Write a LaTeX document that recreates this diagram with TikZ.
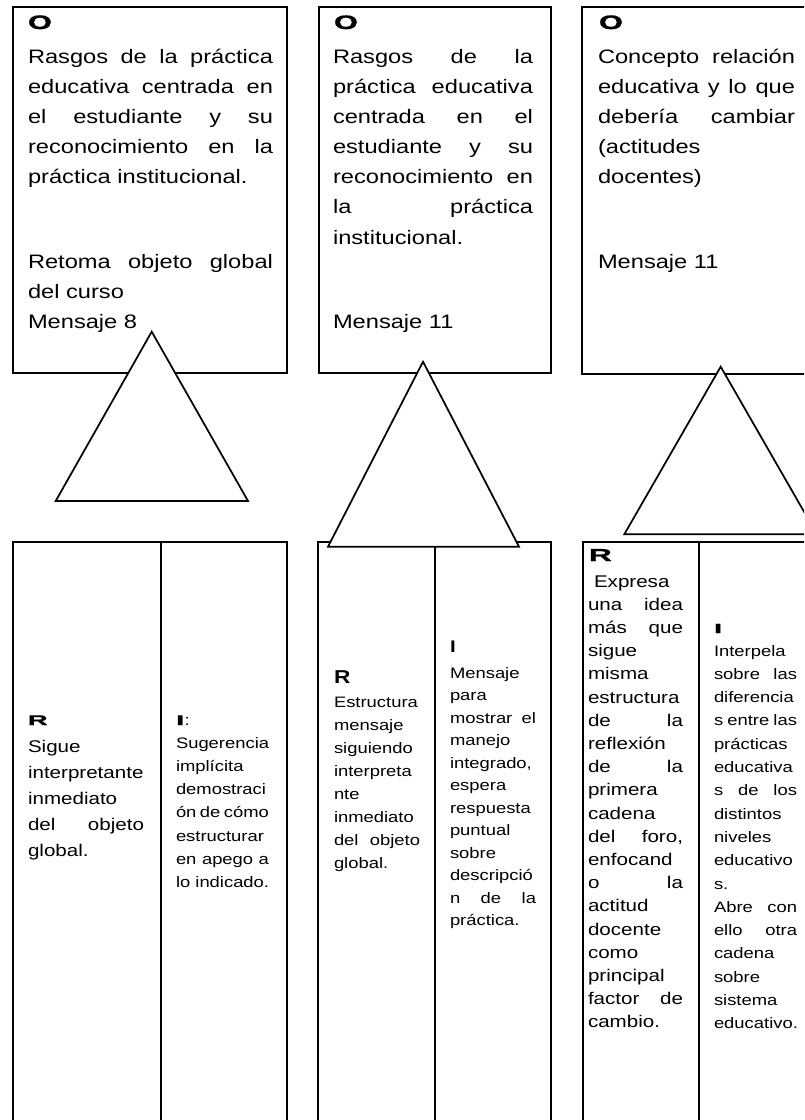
\documentclass[tikz,border=0pt]{standalone}
\usepackage{fontspec}
\usepackage{graphicx}
\setmainfont{Liberation Sans}[FakeStretch=1.215]
\newfontfamily\heavyfont{Liberation Sans}[FakeStretch=1.215, BoldFeatures={FakeBold=1.2}]

% one drawing unit = one pixel of the layout grid
\newlength\pxu \setlength\pxu{0.75pt}
% a justified line of given width (in grid units)
\newcommand\J[2]{\makebox[#1\pxu][s]{#2}}
\newcommand\ftop{\fontsize{14.6pt}{17pt}\selectfont}
\newcommand\fsml{\fontsize{11.36pt}{13pt}\selectfont}
\newcommand\fmid{\fontsize{12.7pt}{15pt}\selectfont}
% heavy, widened heading letter
\newcommand\wideB[3]{{\heavyfont\fontsize{#1}{#1}\selectfont\bfseries\scalebox{#2}[1]{#3}}}
% plain bold heading letter
\newcommand\plainB[2]{{\fontsize{#1}{#1}\selectfont\bfseries #2}}
% a column of lines set one per baseline
\newcommand\txtcol[6]{%
  \foreach \ltxt [count=\k from 0] in {#6}
    \node[txtline, font=#5] (#1-\k) at (#2, {#3+\k*#4}) {\ltxt};%
}

\begin{document}
\begin{tikzpicture}[x=0.75pt, y=-0.75pt,
  frame/.style={draw=black, line width=1.5pt},
  tri/.style={draw=black, fill=white, line width=1.3pt, line join=miter},
  txtline/.style={anchor=base west, inner sep=0pt, outer sep=0pt, text=black},
  head/.style={anchor=base west, inner sep=0pt, outer sep=0pt, text=black}]

\useasboundingbox (0,0) rectangle (804,1120);
\clip (0,0) rectangle (804,1120);
\fill[white] (0,0) rectangle (804,1120);

% upper boxes (O)
\draw[frame] (12.7,7.3) rectangle (287,373);
\draw[frame] (319,7.3) rectangle (551,373);
\draw[frame] (582,7.3) rectangle (816,374);

% lower boxes (R | I)
\draw[frame] (12.7,541.7) rectangle (287,1135);
\draw[frame] (161,541.7) -- (161,1135);
\draw[frame] (318,541.7) rectangle (551,1135);
\draw[frame] (435,541.7) -- (435,1135);
\draw[frame] (583,542.3) rectangle (816,1135);
\draw[frame] (699,542.3) -- (699,1135);

% headings
\node[head] (o1) at (28,29)  {\wideB{14.6pt}{1.3}{O}};
\node[head] (o2) at (334,29) {\wideB{14.6pt}{1.3}{O}};
\node[head] (o3) at (599,29) {\wideB{14.6pt}{1.3}{O}};
\node[head] (r1) at (28,725)  {\wideB{10.5pt}{1.6}{R}};
\node[head] (i1) at (176,725) {\wideB{10.5pt}{1.8}{I}{\fsml:}};
\node[head] (r2) at (334,683) {\plainB{14pt}{R}};
\node[head] (i2) at (450,652) {\plainB{12.6pt}{I}};
\node[head] (r3) at (589,561) {\wideB{13pt}{1.5}{R}};
\node[head] (i3) at (714,633) {\wideB{10pt}{1.8}{I}};

% upper texts
\txtcol{ta}{28}{64}{30}{\ftop}{\J{245}{Rasgos de la práctica}, \J{245}{educativa centrada en}, \J{245}{el estudiante y su}, \J{245}{reconocimiento en la}, práctica institucional.}
\txtcol{tam}{28}{268}{30}{\ftop}{\J{245}{Retoma objeto global}, del curso, Mensaje 8}

\txtcol{tb}{333}{64}{30}{\ftop}{\J{200}{Rasgos de la}, \J{200}{práctica educativa}, \J{200}{centrada en el}, \J{200}{estudiante y su}, \J{200}{reconocimiento en}, \J{200}{la práctica}, institucional.}
\txtcol{tbm}{333}{328}{30}{\ftop}{Mensaje 11}

\txtcol{tc}{598}{64}{30}{\ftop}{\J{197}{Concepto relación}, \J{197}{educativa y lo que}, \J{197}{debería cambiar}, {(actitudes}, docentes)}
\txtcol{tcm}{598}{268}{30}{\ftop}{Mensaje 11}

% lower texts
\txtcol{bar}{28}{752}{26}{\fmid}{Sigue, interpretante, inmediato, \J{116}{del objeto}, global.}
\txtcol{bai}{176}{748}{23.3}{\fsml}{Sugerencia, implícita, demostraci, \J{93}{ón de cómo}, estructurar, \J{93}{en apego a}, lo indicado.}

\txtcol{bbr}{334}{707}{23}{\fsml}{Estructura, mensaje, siguiendo, interpreta, nte, inmediato, \J{86}{del objeto}, global.}
\txtcol{bbi}{450}{678}{22.5}{\fsml}{Mensaje, para, \J{86}{mostrar el}, manejo, {integrado,}, espera, respuesta, puntual, sobre, descripció, \J{86}{n de la}, práctica.}

\txtcol{bcr}{588}{587}{23.2}{\fmid}{\hspace*{6\pxu}Expresa, \J{95}{una idea}, \J{95}{más que}, sigue, misma, estructura, \J{95}{de la}, reflexión, \J{95}{de la}, primera, cadena, \J{95}{del foro,}, enfocand, \J{95}{o la}, actitud, docente, como, principal, \J{95}{factor de}, cambio.}
\txtcol{bci}{714}{656}{23.3}{\fsml}{Interpela, \J{83}{sobre las}, diferencia, \J{83}{s entre las}, prácticas, educativa, \J{83}{s de los}, distintos, niveles, educativo, s., \J{83}{Abre con}, \J{83}{ello otra}, cadena, sobre, sistema, educativo.}

% triangles linking each O box to its R|I box
\filldraw[tri] (151.7,331.7) -- (55.7,501) -- (248,501) -- cycle;
\filldraw[tri] (423,361.7) -- (328,546.7) -- (519,546.7) -- cycle;
\filldraw[tri] (720.7,366.7) -- (624.3,534.3) -- (817,534.3) -- cycle;

\end{tikzpicture}
\end{document}
